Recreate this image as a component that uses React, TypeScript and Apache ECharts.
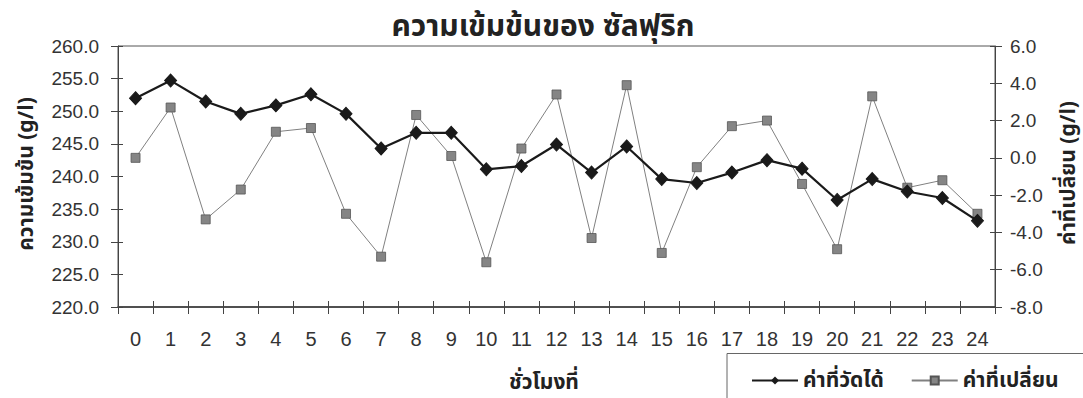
import { useEffect, useRef } from "react";
import * as echarts from "echarts";

// Hour of the day (category axis)
const hours: string[] = [
  "0", "1", "2", "3", "4", "5", "6", "7", "8", "9", "10", "11", "12",
  "13", "14", "15", "16", "17", "18", "19", "20", "21", "22", "23", "24",
];

// Measured sulfuric acid concentration, g/l (left axis)
const measured: number[] = [
  252.0, 254.7, 251.5, 249.6, 250.9, 252.6, 249.6, 244.3, 246.7, 246.7,
  241.1, 241.6, 244.9, 240.6, 244.6, 239.6, 239.0, 240.6, 242.5, 241.2,
  236.4, 239.6, 237.7, 236.7, 233.2,
];

// Hour-to-hour change, g/l (right axis)
const changes: number[] = [
  0.0, 2.7, -3.3, -1.7, 1.4, 1.6, -3.0, -5.3, 2.3, 0.1,
  -5.6, 0.5, 3.4, -4.3, 3.9, -5.1, -0.5, 1.7, 2.0, -1.4,
  -4.9, 3.3, -1.6, -1.2, -3.0,
];

const seriesNames: string[] = ["ค่าที่วัดได้", "ค่าที่เปลี่ยน"];
const titleText = "ความเข้มข้นของ ซัลฟุริก";
const xAxisTitle = "ชั่วโมงที่";
const leftAxisTitle = "ความเข้มข้น (g/l)";
const rightAxisTitle = "ค่าที่เปลี่ยน (g/l)";

const LATIN = "'Liberation Sans', Arial, sans-serif";
const THAI = "'Noto Sans Thai', 'Noto Sans Thai UI', Loma, Garuda, Tahoma, sans-serif";

export default function App() {
  const ref = useRef<HTMLDivElement>(null);

  useEffect(() => {
    if (!ref.current) return;
    const chart = echarts.init(ref.current, undefined, { renderer: "svg" });

    const axisLine = { show: true, onZero: false, lineStyle: { color: "#444", width: 1 } };
    const labelStyle = { color: "#333", fontFamily: LATIN, fontSize: 19 };

    chart.setOption({
      animation: false,
      backgroundColor: "#ffffff",
      grid: {
        left: 118,
        right: 88,
        top: 46,
        bottom: 91,
        show: true,
        borderColor: "#555",
        borderWidth: 1,
      },
      legend: {
        data: seriesNames,
        left: 746,
        top: 365,
        itemWidth: 46,
        itemHeight: 10,
        itemGap: 27,
        textStyle: {
          fontFamily: THAI,
          fontSize: 21,
          fontWeight: "bold",
          color: "#222",
        },
      },
      xAxis: [
        {
          type: "category",
          data: hours,
          boundaryGap: true,
          axisLine: { show: true, onZero: false, lineStyle: { color: "#333", width: 1.5 } },
          axisTick: { show: true, inside: false, length: 7, lineStyle: { color: "#444" } },
          axisLabel: { ...labelStyle, fontSize: 20, margin: 22, interval: 0 },
          splitLine: { show: false },
        },
        {
          type: "category",
          data: hours,
          position: "bottom",
          boundaryGap: true,
          axisLine: { show: false, onZero: false },
          axisTick: { show: true, inside: true, length: 6, lineStyle: { color: "#444" } },
          axisLabel: { show: false },
          splitLine: { show: false },
        },
      ],
      yAxis: [
        {
          type: "value",
          position: "left",
          min: 220,
          max: 260,
          interval: 5,
          axisLine,
          axisTick: { show: true, inside: false, length: 7, lineStyle: { color: "#444" } },
          axisLabel: { ...labelStyle, margin: 19, formatter: (v: number) => v.toFixed(1) },
          splitLine: { show: false },
        },
        {
          type: "value",
          position: "right",
          min: -8,
          max: 6,
          interval: 2,
          axisLine,
          axisTick: { show: true, inside: false, length: 7, lineStyle: { color: "#444" } },
          axisLabel: { ...labelStyle, margin: 15, formatter: (v: number) => v.toFixed(1) },
          splitLine: { show: false },
        },
        {
          type: "value",
          position: "left",
          min: 220,
          max: 260,
          interval: 5,
          axisLine: { show: false, onZero: false },
          axisTick: { show: true, inside: true, length: 5, lineStyle: { color: "#444" } },
          axisLabel: { show: false },
          splitLine: { show: false },
        },
        {
          type: "value",
          position: "right",
          min: -8,
          max: 6,
          interval: 2,
          axisLine: { show: false, onZero: false },
          axisTick: { show: true, inside: true, length: 5, lineStyle: { color: "#444" } },
          axisLabel: { show: false },
          splitLine: { show: false },
        },
      ],
      series: [
        {
          name: seriesNames[1],
          type: "line",
          xAxisIndex: 0,
          yAxisIndex: 1,
          data: changes,
          symbol: "rect",
          symbolSize: 9,
          lineStyle: { color: "#808080", width: 1 },
          itemStyle: { color: "#858585", borderColor: "#555", borderWidth: 0.8 },
          z: 2,
        },
        {
          name: seriesNames[0],
          type: "line",
          xAxisIndex: 0,
          yAxisIndex: 0,
          data: measured,
          symbol: "diamond",
          symbolSize: [12, 13],
          lineStyle: { color: "#1a1a1a", width: 2.2 },
          itemStyle: { color: "#1a1a1a", borderColor: "#1a1a1a" },
          z: 3,
        },
      ],
      graphic: [
        {
          type: "text",
          x: 543,
          y: 27,
          style: {
            text: titleText,
            fontFamily: THAI,
            fontSize: 30,
            fontWeight: "bold",
            fill: "#222",
            align: "center",
            verticalAlign: "middle",
          },
        },
        {
          type: "text",
          x: 544,
          y: 382,
          style: {
            text: xAxisTitle,
            fontFamily: THAI,
            fontSize: 21,
            fontWeight: "bold",
            fill: "#222",
            align: "center",
            verticalAlign: "middle",
          },
        },
        {
          type: "text",
          x: 26,
          y: 174,
          rotation: Math.PI / 2,
          style: {
            text: leftAxisTitle,
            fontFamily: THAI,
            fontSize: 21,
            fontWeight: "bold",
            fill: "#222",
            align: "center",
            verticalAlign: "middle",
          },
        },
        {
          type: "text",
          x: 1068,
          y: 173,
          rotation: Math.PI / 2,
          style: {
            text: rightAxisTitle,
            fontFamily: THAI,
            fontSize: 21,
            fontWeight: "bold",
            fill: "#222",
            align: "center",
            verticalAlign: "middle",
          },
        },
        {
          type: "rect",
          shape: { x: 727, y: 353.5, width: 420, height: 80 },
          style: { fill: "none", stroke: "#666", lineWidth: 1 },
          z: -1,
        },
      ],
    });

    return () => chart.dispose();
  }, []);

  return (
    <div
      ref={ref}
      style={{ position: "absolute", left: 0, top: 0, width: 1083, height: 398, background: "#fff" }}
    />
  );
}
